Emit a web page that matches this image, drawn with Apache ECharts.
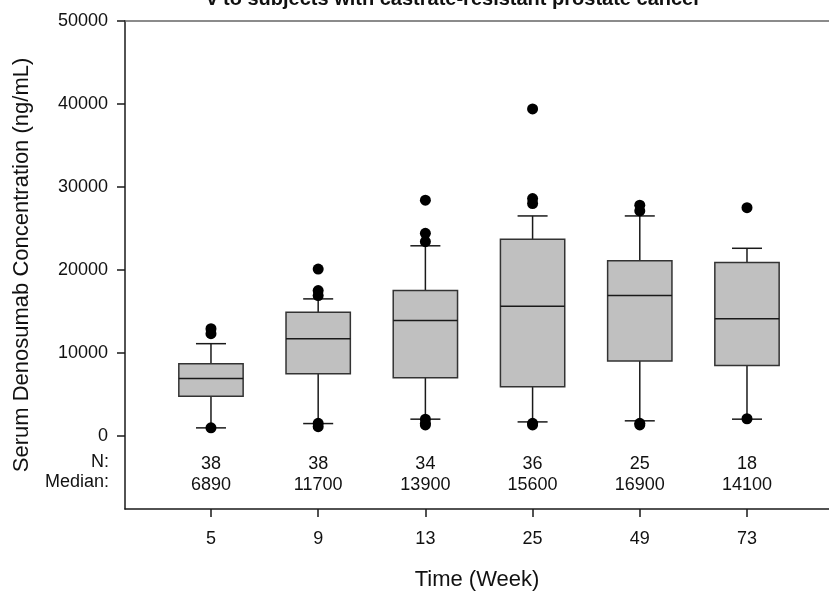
<!DOCTYPE html>
<html>
<head>
<meta charset="utf-8">
<script src="https://cdn.jsdelivr.net/npm/echarts@6/dist/echarts.min.js"></script>
<style>
  html, body { margin: 0; padding: 0; background: #fff; }
  #chart { width: 829px; height: 596px; }
</style>
</head>
<body>
<div id="chart"></div>
<script>
// ---------- data ----------
const weeks = ["5", "9", "13", "25", "49", "73"];
const nCounts = [38, 38, 34, 36, 25, 18];
const medianText = ["6890", "11700", "13900", "15600", "16900", "14100"];

// box parts (ng/mL)
const lowWhisker = [950, 1470, 2000, 1670, 1800, 2000];
const q1 = [4770, 7480, 7000, 5900, 9000, 8470];
const medians = [6890, 11700, 13900, 15600, 16900, 14100];
const q3 = [8680, 14900, 17500, 23700, 21100, 20900];
const highWhisker = [11100, 16500, 22900, 26500, 26500, 22600];

// outlying points per week
const outliers = [
  [12900, 12300, 950],
  [20100, 17500, 16900, 1500, 1100],
  [28400, 24400, 23400, 2000, 1500, 1300],
  [39400, 28600, 28000, 1500, 1300],
  [27800, 27100, 1500, 1300],
  [27500, 2050]
];

const yTicks = [0, 10000, 20000, 30000, 40000, 50000];
const rowLabels = ["N:", "Median:"];
const rowY = [-3460, -5970]; // where the N / median rows sit below zero

// ---------- build series data ----------
const boxData = weeks.map((w, i) => [i, lowWhisker[i], q1[i], medians[i], q3[i], highWhisker[i]]);
const outlierData = [];
outliers.forEach((arr, i) => arr.forEach((v) => outlierData.push([i, v])));
const nData = nCounts.map((n, i) => [i, rowY[0], String(n)]);
const medData = medianText.map((m, i) => [i, rowY[1], m]);
const X_MIN = -0.802, X_MAX = 5.765;
const rowLabelData = rowLabels.map((t, k) => [X_MIN, rowY[k] + 350, t]);

const chart = echarts.init(document.getElementById("chart"));

const FONT = "Liberation Sans, Arial, sans-serif";
const LINE = "#1a1a1a";

function renderBox(params, api) {
  const x = api.value(0);
  const bandW = api.size([1, 0])[0];
  const boxW = bandW * 0.6;
  const capW = bandW * 0.28;
  const pLow = api.coord([x, api.value(1)]);
  const pQ1 = api.coord([x, api.value(2)]);
  const pMed = api.coord([x, api.value(3)]);
  const pQ3 = api.coord([x, api.value(4)]);
  const pHigh = api.coord([x, api.value(5)]);
  const cx = pMed[0];
  const lineStyle = { stroke: LINE, lineWidth: 1.5 };
  return {
    type: "group",
    children: [
      { type: "line", shape: { x1: cx, y1: pLow[1], x2: cx, y2: pQ1[1] }, style: lineStyle },
      { type: "line", shape: { x1: cx, y1: pQ3[1], x2: cx, y2: pHigh[1] }, style: lineStyle },
      { type: "line", shape: { x1: cx - capW / 2, y1: pLow[1], x2: cx + capW / 2, y2: pLow[1] }, style: lineStyle },
      { type: "line", shape: { x1: cx - capW / 2, y1: pHigh[1], x2: cx + capW / 2, y2: pHigh[1] }, style: lineStyle },
      {
        type: "rect",
        shape: { x: cx - boxW / 2, y: pQ3[1], width: boxW, height: pQ1[1] - pQ3[1] },
        style: { fill: "#c0c0c0", stroke: "#333", lineWidth: 1.5 }
      },
      { type: "line", shape: { x1: cx - boxW / 2, y1: pMed[1], x2: cx + boxW / 2, y2: pMed[1] }, style: lineStyle }
    ]
  };
}

const textLabel = (pos, dist) => ({
  show: true,
  position: pos,
  distance: dist,
  fontFamily: FONT,
  fontSize: 18,
  color: "#111",
  opacity: 1,
  textBorderWidth: 0,
  formatter: (p) => p.value[2]
});

// text-only scatter (no visible symbol)
const textSeries = (data, pos, dist) => ({
  type: "scatter",
  data: data,
  symbolSize: 0,
  clip: false,
  silent: true,
  itemStyle: { opacity: 1, color: "#111" },
  label: textLabel(pos, dist)
});

const option = {
  animation: false,
  backgroundColor: "#fff",
  grid: { left: 125, right: 0, top: 21, bottom: 82, containLabel: false },
  xAxis: [
    {
      type: "value",
      min: X_MIN,
      max: X_MAX,
      splitLine: { show: false },
      axisLine: { show: true, onZero: false, lineStyle: { color: LINE, width: 1.5 } },
      axisTick: { show: true, length: 8, lineStyle: { color: LINE, width: 1.5 }, customValues: [0, 1, 2, 3, 4, 5] },
      axisLabel: {
        customValues: [0, 1, 2, 3, 4, 5],
        formatter: (v) => weeks[Math.round(v)],
        margin: 21,
        fontFamily: FONT,
        fontSize: 18,
        color: "#111"
      },
      name: "Time (Week)",
      nameLocation: "middle",
      nameGap: 60,
      nameTextStyle: { fontFamily: FONT, fontSize: 22, color: "#111" }
    },
    {
      type: "value",
      position: "top",
      min: X_MIN,
      max: X_MAX,
      splitLine: { show: false },
      axisLine: { show: true, onZero: false, lineStyle: { color: "#666", width: 1.5 } },
      axisTick: { show: false },
      axisLabel: { show: false }
    }
  ],
  yAxis: {
    type: "value",
    min: -8830,
    max: 50000,
    splitLine: { show: false },
    axisLine: { show: true, onZero: false, lineStyle: { color: LINE, width: 1.5 } },
    axisTick: { show: true, length: 8, lineStyle: { color: LINE, width: 1.5 }, customValues: yTicks },
    axisLabel: {
      customValues: yTicks,
      formatter: (v) => String(v),
      margin: 17,
      fontFamily: FONT,
      fontSize: 18,
      color: "#111"
    },
    name: "Serum Denosumab Concentration (ng/mL)",
    nameLocation: "middle",
    nameGap: 92,
    nameTextStyle: { fontFamily: FONT, fontSize: 22, color: "#111" }
  },
  graphic: [
    {
      type: "text",
      right: 128,
      top: -11,
      style: {
        text: "v to subjects with castrate-resistant prostate cancer",
        font: "bold 20px " + FONT,
        fill: "#111"
      }
    }
  ],
  series: [
    {
      type: "custom",
      renderItem: renderBox,
      data: boxData,
      encode: { x: 0, y: [1, 2, 3, 4, 5] },
      z: 2
    },
    {
      type: "scatter",
      data: outlierData,
      symbolSize: 11,
      itemStyle: { color: "#000", opacity: 1 },
      z: 3
    },
    textSeries(nData, "inside", 0),
    textSeries(medData, "inside", 0),
    textSeries(rowLabelData, "left", 16)
  ]
};

chart.setOption(option);
</script>
</body>
</html>
